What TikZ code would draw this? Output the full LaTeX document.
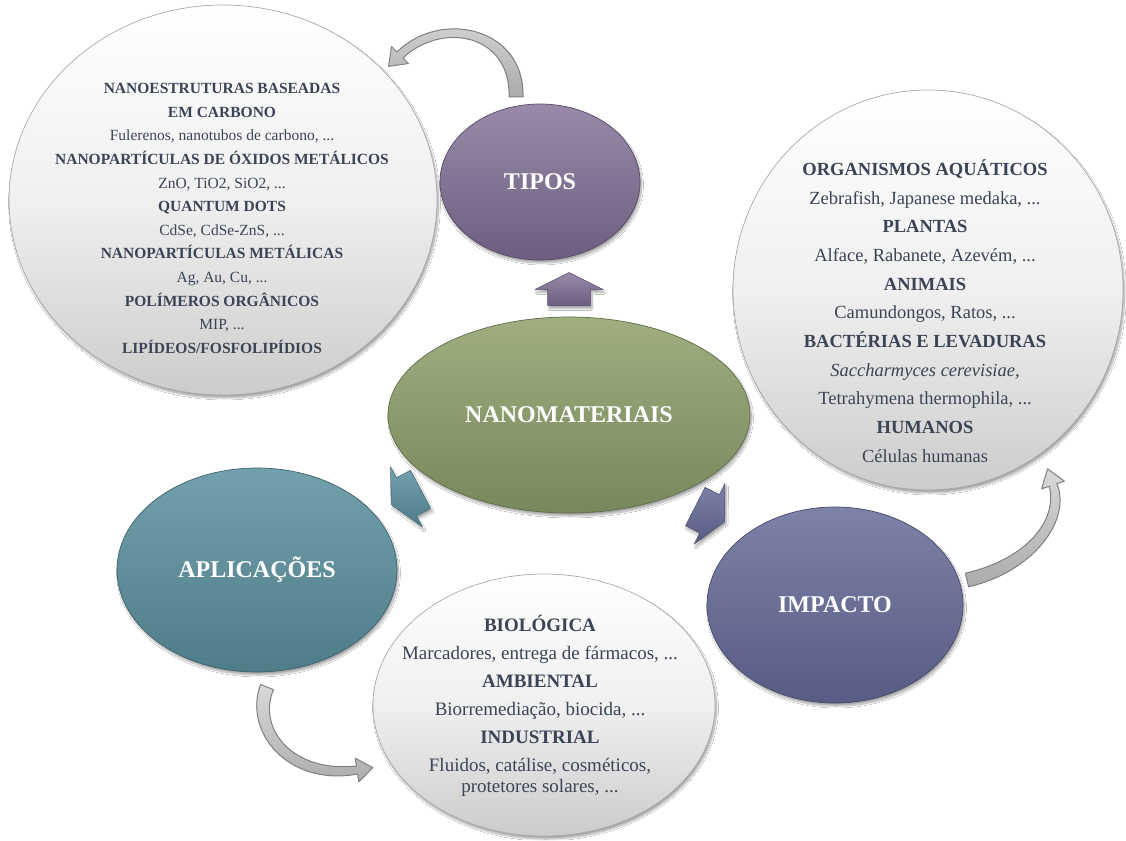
\documentclass[tikz,border=0pt]{standalone}
\usepackage{fontspec}
\setmainfont{Liberation Serif}
\usetikzlibrary{shapes.geometric,shadows.blur}

\definecolor{ink}{RGB}{59,68,84}
\definecolor{tiposA}{RGB}{152,138,168}
\definecolor{tiposB}{RGB}{108,94,128}
\definecolor{nanoA}{RGB}{160,174,128}
\definecolor{nanoB}{RGB}{120,136,92}
\definecolor{aplA}{RGB}{114,160,172}
\definecolor{aplB}{RGB}{78,124,136}
\definecolor{impA}{RGB}{126,130,168}
\definecolor{impB}{RGB}{88,92,132}
\definecolor{rim}{RGB}{150,150,150}

\tikzset{
  softshadow/.style={blur shadow={shadow xshift=1.5pt, shadow yshift=-3pt,
      shadow blur steps=10, shadow opacity=35}},
  bubble/.style={ellipse, inner sep=0pt, draw=rim!80, line width=0.7pt,
      top color=white, bottom color=black!20, middle color=white!94!black,
      softshadow},
  hub/.style={ellipse, inner sep=0pt, line width=0.7pt, text=white,
      font=\fontsize{24}{28}\selectfont\bfseries, softshadow},
  listtext/.style={inner sep=0pt, align=center, text=ink},
  curl/.style={draw=black!50, line width=1pt, line join=round,
      top color=black!15, bottom color=black!33},
  pics/blockarrow/.style 2 args={code={
    \path[top color=#1, bottom color=#2, draw=#2!85!black, line width=0.5pt,
          line join=round, softshadow]
      (16.5pt,0pt) -- (-0.5pt,34pt) -- (-0.5pt,21.5pt) -- (-16.5pt,21.5pt)
      -- (-16.5pt,-21.5pt) -- (-0.5pt,-21.5pt) -- (-0.5pt,-34pt) -- cycle;
  }},
}

\begin{document}
\begin{tikzpicture}[x=1pt,y=-1pt]
\fill[white] (0,0) rectangle (1126,840);
\useasboundingbox (0,0) rectangle (1126,840);

% detail bubbles
\node[bubble, minimum width=428pt, minimum height=390pt] (typesbubble) at (223,200) {};
\node[bubble, minimum width=390pt, minimum height=400pt] (impactbubble) at (928,290) {};
\node[bubble, minimum width=342pt, minimum height=262pt] (usesbubble) at (544,705) {};

% central and category ellipses
\node[hub, top color=tiposA, bottom color=tiposB, draw=tiposB!80!black,
      minimum width=200pt, minimum height=156pt] (tipos) at (540,182) {TIPOS};
\node[hub, top color=nanoA, bottom color=nanoB, draw=nanoB!80!black,
      minimum width=362pt, minimum height=196pt] (nano) at (569,415) {NANOMATERIAIS};
\node[hub, top color=aplA, bottom color=aplB, draw=aplB!80!black,
      minimum width=280pt, minimum height=204pt] (apl) at (257,570) {APLICAÇÕES};
\node[hub, top color=impA, bottom color=impB, draw=impB!80!black,
      minimum width=256pt, minimum height=196pt] (imp) at (835,605) {IMPACTO};

% block arrows leaving the central ellipse
\pic[rotate=90] (totipos) at (569,289) {blockarrow={tiposA}{tiposB}};
\pic[rotate=208] (toapl) at (406,497) {blockarrow={aplA}{aplB}};
\pic[rotate=-27] (toimp) at (710,514) {blockarrow={impA}{impB}};

% curved arrows from each category to its bubble
\path[curl] (509,97) -- (523,97) .. controls (525,27) and (440,9) .. (397,52)
  -- (391.5,46.5) -- (388.6,66.4) -- (408.5,63.5) -- (403,58)
  .. controls (442,21) and (511,34) .. (509,97) -- cycle;
\path[curl] (965.4,573.2) -- (968.6,586.8) .. controls (1033,572) and (1072,520) .. (1056.8,483.7)
  -- (1064.4,481.2) -- (1047.6,468.9) -- (1041.6,488.8) -- (1049.2,486.3)
  .. controls (1058,520) and (1027,559) .. (965.4,573.2) -- cycle;
\path[curl] (273.5,689.6) -- (260.5,684.4) .. controls (243,732) and (288,787) .. (357.6,774)
  -- (358.8,781.9) -- (372.8,767.6) -- (355.2,758.1) -- (356.4,766)
  .. controls (292,773) and (257,728) .. (273.5,689.6) -- cycle;

% bubble contents
\node[listtext, font=\fontsize{15.5}{23.6}\selectfont] (typeslist) at (222,218.5) {%
  \textbf{NANOESTRUTURAS BASEADAS}\\
  \textbf{EM CARBONO}\\
  Fulerenos, nanotubos de carbono, ...\\
  \textbf{NANOPARTÍCULAS DE ÓXIDOS METÁLICOS}\\
  ZnO, TiO2, SiO2, ...\\
  \textbf{QUANTUM DOTS}\\
  CdSe, CdSe-ZnS, ...\\
  \textbf{NANOPARTÍCULAS METÁLICAS}\\
  Ag, Au, Cu, ...\\
  \textbf{POLÍMEROS ORGÂNICOS}\\
  MIP, ...\\
  \textbf{LIPÍDEOS/FOSFOLIPÍDIOS}};

\node[listtext, font=\fontsize{18.5}{28.7}\selectfont] (impactlist) at (925,311) {%
  \textbf{ORGANISMOS AQUÁTICOS}\\
  Zebrafish, Japanese medaka, ...\\
  \textbf{PLANTAS}\\
  Alface, Rabanete, Azevém, ...\\
  \textbf{ANIMAIS}\\
  Camundongos, Ratos, ...\\
  \textbf{BACTÉRIAS E LEVADURAS}\\
  \textit{Saccharmyces cerevisiae,}\\
  Tetrahymena thermophila, ...\\
  \textbf{HUMANOS}\\
  Células humanas};

\node[listtext, font=\fontsize{19}{21.5}\selectfont] (useslist) at (540,706) {%
  \textbf{BIOLÓGICA}\\[6.5pt]
  Marcadores, entrega de fármacos, ...\\[6.5pt]
  \textbf{AMBIENTAL}\\[6.5pt]
  Biorremediação, biocida, ...\\[6.5pt]
  \textbf{INDUSTRIAL}\\[6.5pt]
  Fluidos, catálise, cosméticos,\\
  protetores solares, ...};
\end{tikzpicture}
\end{document}
